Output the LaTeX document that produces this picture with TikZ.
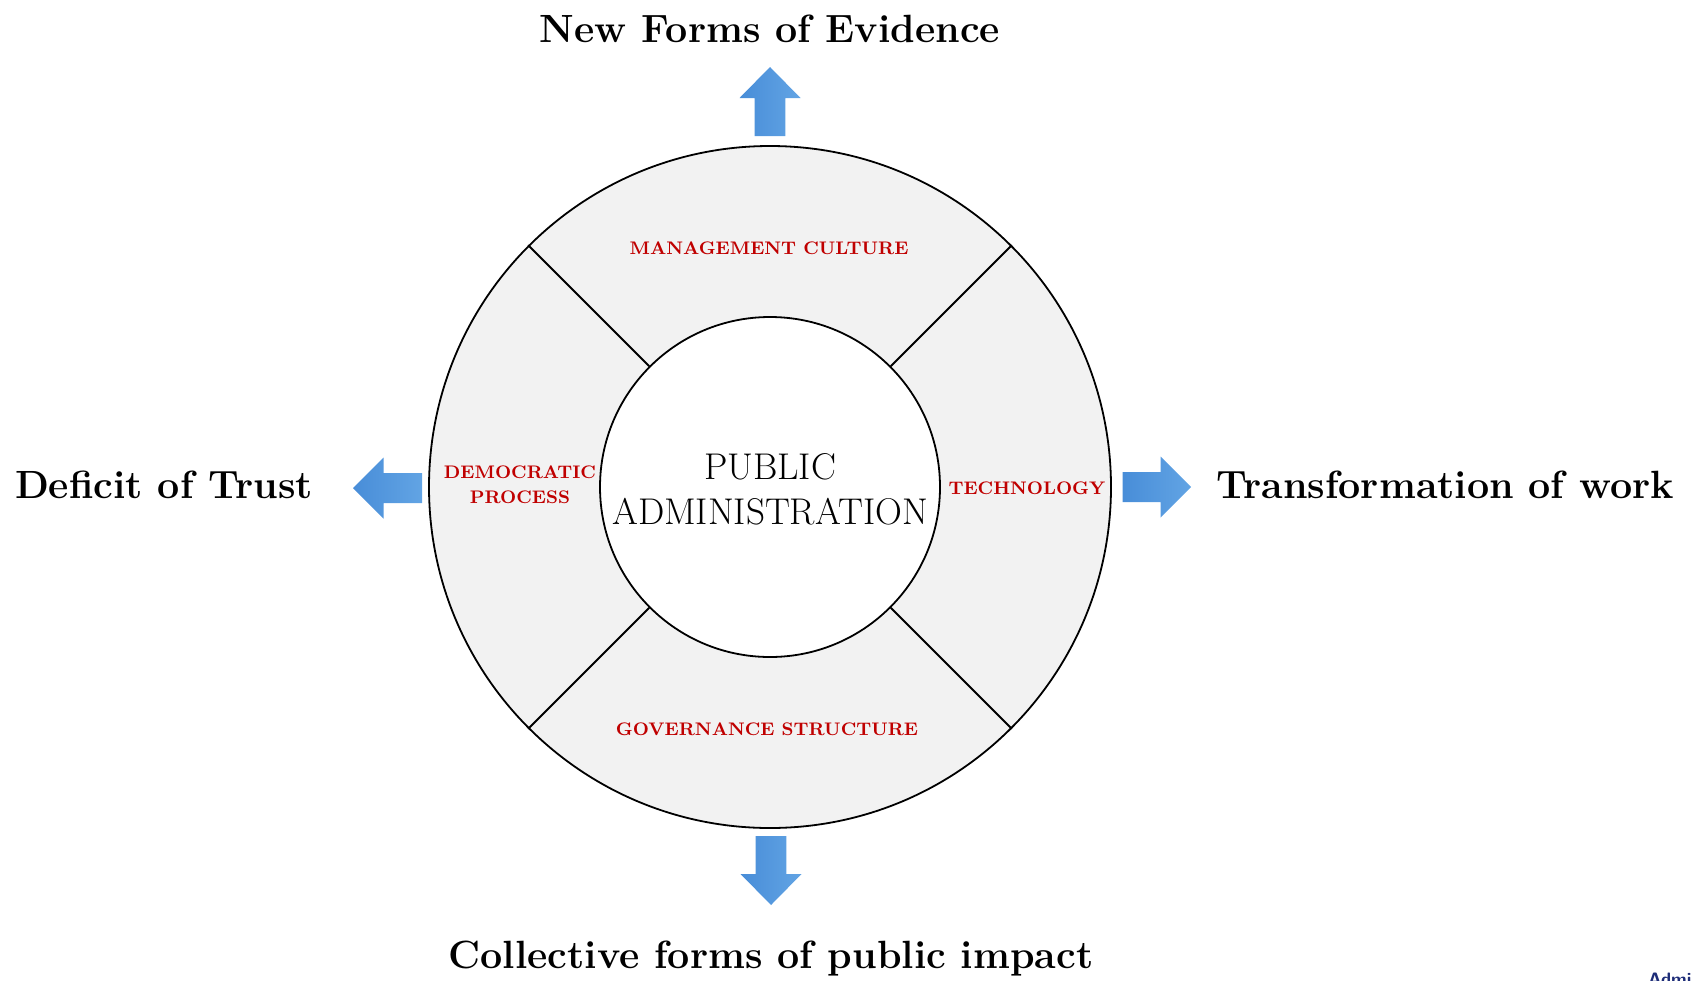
\documentclass[tikz,border=0pt]{standalone}
\definecolor{ringgray}{RGB}{242,242,242}
\definecolor{labelred}{RGB}{192,0,0}
\definecolor{logoblue}{RGB}{30,45,120}
\tikzset{
  ringcircle/.style={circle, draw, line width=0.9pt, inner sep=0pt},
  arrowfill/.style={left color={rgb,255:red,72;green,141;blue,216}, right color={rgb,255:red,98;green,164;blue,228}},
  title/.style={anchor=base, font=\fontsize{19.7}{24}\selectfont\bfseries},
  sector/.style={text=labelred, align=center, font=\fontsize{9.1}{12.5}\selectfont\bfseries},
}
\begin{document}
\begin{tikzpicture}[x=0.5pt,y=-0.5pt]
    \useasboundingbox(0,0)rectangle(1691,980);
    \node[ringcircle, fill=ringgray, minimum size=341pt](ring)at(770,487){};
    \node[ringcircle, fill=white, minimum size=170pt](core)at(770,487){};
    \foreach \a in {45,135,225,315}
        \draw[line width=0.9pt](core.\a)--(ring.\a);
    \node[align=center, font=\fontsize{18.6}{22.5}\selectfont](pa)at(770,489){PUBLIC\\ADMINISTRATION};
    \node[sector](mgmt)at(769,248){MANAGEMENT CULTURE};
    \node[sector](tech)at(1027,488){TECHNOLOGY};
    \node[sector](demo)at(520,485){DEMOCRATIC\\PROCESS};
    \node[sector](gov)at(767,729){GOVERNANCE STRUCTURE};
    \shade[arrowfill](770,67)--(800.5,98)--(785.3,98)--(785.3,136)--(754.7,136)--(754.7,98)--(739.5,98)--cycle;
    \shade[arrowfill](771,905)--(801.5,874)--(786.3,874)--(786.3,836)--(755.7,836)--(755.7,874)--(740.5,874)--cycle;
    \shade[arrowfill](353,488)--(383.5,457.5)--(383.5,473)--(422,473)--(422,503)--(383.5,503)--(383.5,518.5)--cycle;
    \shade[arrowfill](1191,487)--(1160.5,456.5)--(1160.5,472)--(1122.5,472)--(1122.5,502)--(1160.5,502)--(1160.5,517.5)--cycle;
    \node[title](evid)at(770,42){New Forms of Evidence};
    \node[title](trust)at(164,498){Deficit of Trust};
    \node[title](work)at(1445,498){Transformation of work};
    \node[title](impact)at(771,968){Collective forms of public impact};
    \node[anchor=base west, inner sep=0pt, text=logoblue, font=\sffamily\bfseries\fontsize{9}{10}\selectfont](logo)at(1648,985){Administrative Sciences};
\end{tikzpicture}
\end{document}
